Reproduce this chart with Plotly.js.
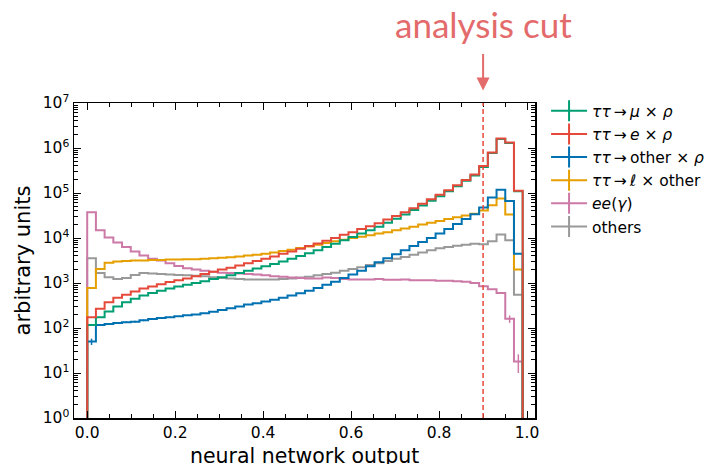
<!DOCTYPE html>
<html><head><meta charset="utf-8">
<script src="https://cdn.plot.ly/plotly-3.0.1.min.js"></script>
<style>body{margin:0;background:#fff;} #chart{width:704px;height:464px;}</style>
</head><body><div id="chart"></div>
<script>
// ---- data ----
const binEdges = [0, 0.0198, 0.0396, 0.0594, 0.0792, 0.099, 0.1188, 0.1386, 0.1584, 0.1782, 0.198, 0.2178, 0.2376, 0.2574, 0.2772, 0.297, 0.3168, 0.3366, 0.3564, 0.3762, 0.396, 0.4158, 0.4356, 0.4554, 0.4752, 0.495, 0.5148, 0.5346, 0.5544, 0.5742, 0.594, 0.6138, 0.6336, 0.6534, 0.6732, 0.693, 0.7128, 0.7326, 0.7524, 0.7722, 0.792, 0.8118, 0.8316, 0.8514, 0.8712, 0.891, 0.9108, 0.9306, 0.9504, 0.9702, 0.99];

const muRho = [117, 174, 234, 302, 372, 447, 525, 603, 676, 759, 832, 912, 1000, 1096, 1230, 1349, 1479, 1660, 1862, 2089, 2344, 2630, 3020, 3467, 3981, 4571, 5370, 6310, 7413, 8913, 10470, 12590, 14790, 17780, 21880, 26920, 33110, 41690, 52480, 67610, 85110, 109600, 141300, 186200, 245500, 380200, 776200, 1585000, 1288000, 109600];
const eRho = [174, 269, 372, 468, 550, 646, 759, 832, 933, 1047, 1148, 1259, 1413, 1585, 1778, 1995, 2188, 2455, 2754, 3090, 3467, 3890, 4467, 5012, 5754, 6607, 7586, 8710, 10000, 11750, 13490, 15850, 18200, 21380, 25700, 30900, 37150, 45710, 57540, 72440, 91200, 114800, 147900, 195000, 257000, 398000, 794000, 1622000, 1318000, 112200];
const otherRho = [50, 117, 123, 129, 135, 138, 148, 158, 166, 174, 182, 191, 200, 214, 229, 251, 275, 302, 331, 355, 389, 427, 468, 525, 589, 676, 776, 912, 1072, 1288, 1549, 1862, 2344, 2884, 3548, 4365, 5370, 6607, 8128, 10000, 12590, 15850, 20420, 26300, 33880, 47860, 79430, 117500, 66070, 4467];
const lepOther = [776, 2042, 2818, 3020, 3090, 3162, 3162, 3236, 3236, 3311, 3311, 3388, 3388, 3467, 3548, 3631, 3715, 3890, 4074, 4266, 4467, 4786, 5129, 5495, 6026, 6457, 7079, 7762, 8511, 9120, 10000, 10720, 11480, 12590, 13490, 14790, 16220, 17780, 19950, 21880, 23990, 26300, 28840, 31620, 34670, 40740, 53700, 75860, 33110, 1995];
const eeGamma = [37150, 14790, 10230, 7943, 6310, 5012, 4074, 3467, 3162, 2754, 2399, 2138, 1995, 1862, 1778, 1698, 1660, 1622, 1585, 1549, 1479, 1413, 1380, 1318, 1288, 1259, 1259, 1318, 1288, 1230, 1202, 1202, 1202, 1230, 1175, 1175, 1202, 1148, 1148, 1148, 1122, 1122, 1096, 1072, 1000, 851, 724, 603, 160, 18];
const others = [3548, 1660, 1349, 1230, 1288, 1514, 1660, 1622, 1585, 1549, 1514, 1479, 1445, 1413, 1349, 1288, 1259, 1230, 1202, 1202, 1202, 1202, 1230, 1259, 1318, 1380, 1479, 1585, 1698, 1862, 2042, 2239, 2512, 2754, 3090, 3467, 3802, 4266, 4786, 5370, 5888, 6310, 6761, 7079, 7413, 7244, 8511, 12020, 8913, 550];

// statistical uncertainties visible in the picture (0 = too small to see)
const otherRhoErr = [8, 6, 6, 6, 6, 6, 6, 5, 5, 5, 0, 0, 0, 0, 0, 0, 0, 0, 0, 0, 0, 0, 0, 0, 0, 0, 0, 0, 0, 0, 0, 0, 0, 0, 0, 0, 0, 0, 0, 0, 0, 0, 0, 0, 0, 0, 0, 0, 0, 0];
const eeGammaErr = [0, 0, 0, 0, 0, 0, 0, 0, 0, 0, 0, 0, 0, 0, 0, 0, 0, 0, 0, 0, 0, 0, 0, 0, 0, 0, 0, 0, 0, 0, 0, 0, 0, 0, 0, 0, 0, 0, 0, 0, 0, 0, 0, 0, 0, 0, 0, 0, 30, 8];

const seriesNames = ['<i>ττ</i>\u2009→\u2009<i>μ</i> × <i>ρ</i>', '<i>ττ</i>\u2009→\u2009<i>e</i> × <i>ρ</i>', '<i>ττ</i>\u2009→\u2009other × <i>ρ</i>', '<i>ττ</i>\u2009→\u2009<i>ℓ</i> × other', '<i>ee</i>(<i>γ</i>)', 'others'];
const seriesColors = ['#009E73', '#E5493A', '#0072B2', '#E69F00', '#CC79A7', '#999999'];
const xTickVals = [0, 0.2, 0.4, 0.6, 0.8, 1.0];
const xTickText = ['0.0', '0.2', '0.4', '0.6', '0.8', '1.0'];
const yTickVals = [1, 10, 100, 1000, 1e4, 1e5, 1e6, 1e7];
const yTickText = ['10<sup>0</sup>', '10<sup>1</sup>', '10<sup>2</sup>', '10<sup>3</sup>', '10<sup>4</sup>', '10<sup>5</sup>', '10<sup>6</sup>', '10<sup>7</sup>'];
const xTitle = 'neural network output';
const yTitle = 'arbitrary units';
const cutLabel = 'analysis cut';
const cutValue = 0.9;

// ---- build ----
const allSeries = [muRho, eRho, otherRho, lepOther, eeGamma, others];
const errs = [null, null, otherRhoErr, null, eeGammaErr, null];
const floorVal = 1e-3;
function stepXY(vals) {
  const x = [binEdges[0]], y = [floorVal];
  for (let k = 0; k < vals.length; k++) { x.push(binEdges[k]); y.push(vals[k]); }
  const last = binEdges[binEdges.length - 1];
  x.push(last); y.push(vals[vals.length - 1]);
  x.push(last); y.push(floorVal);
  return {x, y};
}
const centers = [];
for (let k = 0; k < binEdges.length - 1; k++) centers.push((binEdges[k] + binEdges[k + 1]) / 2);

const drawOrder = [5, 4, 3, 2, 0, 1];
const traces = [];
drawOrder.forEach(i => {
  const s = stepXY(allSeries[i]);
  traces.push({x: s.x, y: s.y, type: 'scatter', mode: 'lines', line: {shape: 'hv', color: seriesColors[i], width: 2}, showlegend: false, hoverinfo: 'skip'});
  if (errs[i]) {
    traces.push({x: centers, y: allSeries[i], type: 'scatter', mode: 'markers', marker: {size: 0.1, color: seriesColors[i], opacity: 0}, showlegend: false,
      error_y: {type: 'data', array: errs[i], width: 0, thickness: 1.5, color: seriesColors[i]}});
  }
});
seriesNames.forEach((n, i) => {
  traces.push({x: [null], y: [null], type: 'scatter', mode: 'lines+markers', name: n, legendrank: i + 1,
    line: {color: seriesColors[i], width: 2}, marker: {symbol: 'line-ns', size: 15, line: {color: seriesColors[i], width: 2}}});
});

const yMinor = [];
for (let p = 0; p < 7; p++) for (let m = 2; m <= 9; m++) yMinor.push(m * Math.pow(10, p));

const font = 'DejaVu Sans, sans-serif';
const layout = {
  width: 704, height: 464,
  margin: {l: 74, r: 169, t: 103, b: 46, autoexpand: false},
  paper_bgcolor: '#fff', plot_bgcolor: '#fff',
  font: {family: font, size: 15.5, color: '#000'},
  showlegend: true,
  legend: {x: 1.024, xanchor: 'left', y: 1.028, yanchor: 'top', itemwidth: 36, font: {family: font, size: 15.5}, bgcolor: 'rgba(0,0,0,0)', traceorder: 'normal'},
  xaxis: {range: [-0.03, 1.018], tickmode: 'array', tickvals: xTickVals, ticktext: xTickText, ticks: 'inside', ticklen: 7, tickwidth: 1, tickcolor: '#000',
    showline: true, linecolor: '#000', linewidth: 1.5, mirror: 'ticks', showgrid: false, zeroline: false,
    tickfont: {family: font, size: 15.5},
    minor: {dtick: 0.05, tick0: 0, ticks: 'inside', ticklen: 4, tickcolor: '#000', showgrid: false}},
  yaxis: {type: 'log', range: [0, 7], tickmode: 'array', tickvals: yTickVals, ticktext: yTickText, ticks: 'inside', ticklen: 7, tickwidth: 1, tickcolor: '#000',
    showline: true, linecolor: '#000', linewidth: 1.5, mirror: 'ticks', showgrid: false, zeroline: false,
    tickfont: {family: font, size: 15.5},
    minor: {tickmode: 'array', tickvals: yMinor, ticks: 'inside', ticklen: 4, tickcolor: '#000', showgrid: false},
    title: {text: yTitle, font: {family: font, size: 21}, standoff: 6}},
  shapes: [{type: 'line', xref: 'x', yref: 'paper', x0: cutValue, x1: cutValue, y0: 0, y1: 1, line: {color: '#E5493A', width: 1.5, dash: '5px,3px'}}],
  annotations: [
    {xref: 'paper', yref: 'paper', x: 0.5, y: -0.12, text: xTitle, showarrow: false, xanchor: 'center', yanchor: 'middle', font: {family: font, size: 20.5, color: '#000'}},
    {xref: 'x', yref: 'paper', x: cutValue, y: 1.252, text: cutLabel, showarrow: false, xanchor: 'center', yanchor: 'middle', font: {family: 'Lato, sans-serif', size: 35, color: '#E36B6B'}},
    {xref: 'x', yref: 'paper', x: cutValue, y: 1.04, ax: 0, ay: -38, text: '', showarrow: true, arrowhead: 2, arrowsize: 1.3, arrowwidth: 2, arrowcolor: '#E36B6B'}
  ]
};
Plotly.newPlot('chart', traces, layout, {displayModeBar: false, staticPlot: true});
</script>
</body></html>
